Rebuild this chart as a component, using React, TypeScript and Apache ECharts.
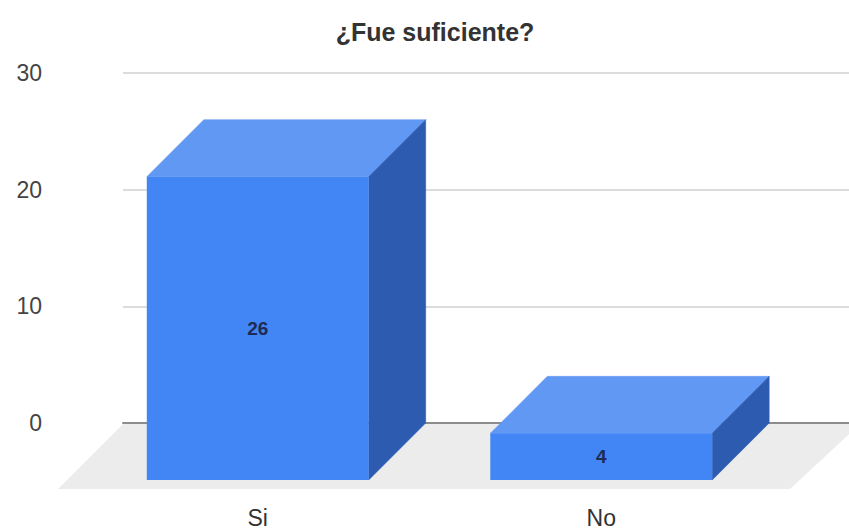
import React, { useEffect, useRef } from "react";
import * as echarts from "echarts";

// Survey answers
const categories = ["Si", "No"];
const counts = [26, 4];
const yTicks = [0, 10, 20, 30];

const TITLE = "¿Fue suficiente?";
const DEPTH = 57; // 3D extrusion offset in px (right and up)
const FONT = "Liberation Sans, Arial, sans-serif";

const FRONT = "#4285f4";
const TOP = "#6198f3";
const SIDE = "#2d5bb0";

export default function App() {
  const ref = useRef<HTMLDivElement>(null);

  useEffect(() => {
    if (!ref.current) return;
    document.body.style.margin = "0";
    const chart = echarts.init(ref.current, undefined, { renderer: "svg" });

    const renderBar = (params: any, api: any) => {
      const idx = api.value(0);
      const val = api.value(1);
      const top = api.coord([idx, val]);
      const base = api.coord([idx, 0]);
      const w = api.size([1, 0])[0] * 0.646;
      const l = top[0] - w / 2;
      const r = top[0] + w / 2;
      const yT = top[1];
      const yB = base[1];
      const d = DEPTH;
      return {
        type: "group",
        children: [
          {
            type: "polygon",
            shape: { points: [[l, yT], [l + d, yT - d], [r + d, yT - d], [r, yT]] },
            style: { fill: TOP, stroke: TOP, lineWidth: 0.5 },
          },
          {
            type: "polygon",
            shape: { points: [[r, yT], [r + d, yT - d], [r + d, yB - d], [r, yB]] },
            style: { fill: SIDE, stroke: SIDE, lineWidth: 0.5 },
          },
          {
            type: "rect",
            shape: { x: l, y: yT, width: w, height: yB - yT },
            style: { fill: FRONT },
          },
          {
            type: "text",
            style: {
              text: String(val),
              x: top[0],
              y: (yT + yB) / 2,
              align: "center",
              verticalAlign: "middle",
              fill: "#1d2b55",
              font: `bold 19px ${FONT}`,
            },
          },
        ],
      };
    };

    chart.setOption({
      animation: false,
      title: {
        text: TITLE,
        left: 430,
        textAlign: "center",
        top: 14,
        textStyle: { fontSize: 25, fontWeight: "bold", color: "#333", fontFamily: FONT },
      },
      grid: [
        // back plane: gridlines and value labels
        { left: 123, right: 0, top: 73, bottom: 108 },
        // front plane: bar faces and category labels
        { left: 86, right: 76, top: 73 + DEPTH, bottom: 108 - DEPTH },
      ],
      xAxis: [
        {
          gridIndex: 0,
          type: "category",
          data: categories,
          axisLine: { show: true, lineStyle: { color: "#8c8c8c", width: 2 } },
          axisTick: { show: false },
          axisLabel: { show: false },
          splitLine: { show: false },
        },
        {
          gridIndex: 1,
          type: "category",
          data: categories,
          axisLine: { show: false },
          axisTick: { show: false },
          axisLabel: { color: "#333", fontSize: 23, fontFamily: FONT, margin: 26 },
        },
      ],
      yAxis: [
        {
          gridIndex: 0,
          type: "value",
          min: yTicks[0],
          max: yTicks[yTicks.length - 1],
          interval: 10,
          axisLine: { show: false },
          axisTick: { show: false },
          axisLabel: { color: "#444", fontSize: 23, fontFamily: FONT, margin: 81 },
          splitLine: { lineStyle: { color: "#dcdcdc", width: 2 } },
        },
        {
          gridIndex: 1,
          type: "value",
          min: yTicks[0],
          max: yTicks[yTicks.length - 1],
          interval: 10,
          show: false,
          splitLine: { show: false },
        },
      ],
      graphic: [
        {
          type: "polygon",
          z: -1,
          silent: true,
          shape: { points: [[123, 424], [860, 424], [790, 489], [58, 489]] },
          style: { fill: "#ececec" },
        },
      ],
      series: [
        {
          type: "custom",
          xAxisIndex: 1,
          yAxisIndex: 1,
          renderItem: renderBar,
          data: counts.map((v, i) => [i, v]),
          z: 5,
        },
      ],
    });

    return () => chart.dispose();
  }, []);

  return <div ref={ref} style={{ width: 849, height: 531 }} />;
}
